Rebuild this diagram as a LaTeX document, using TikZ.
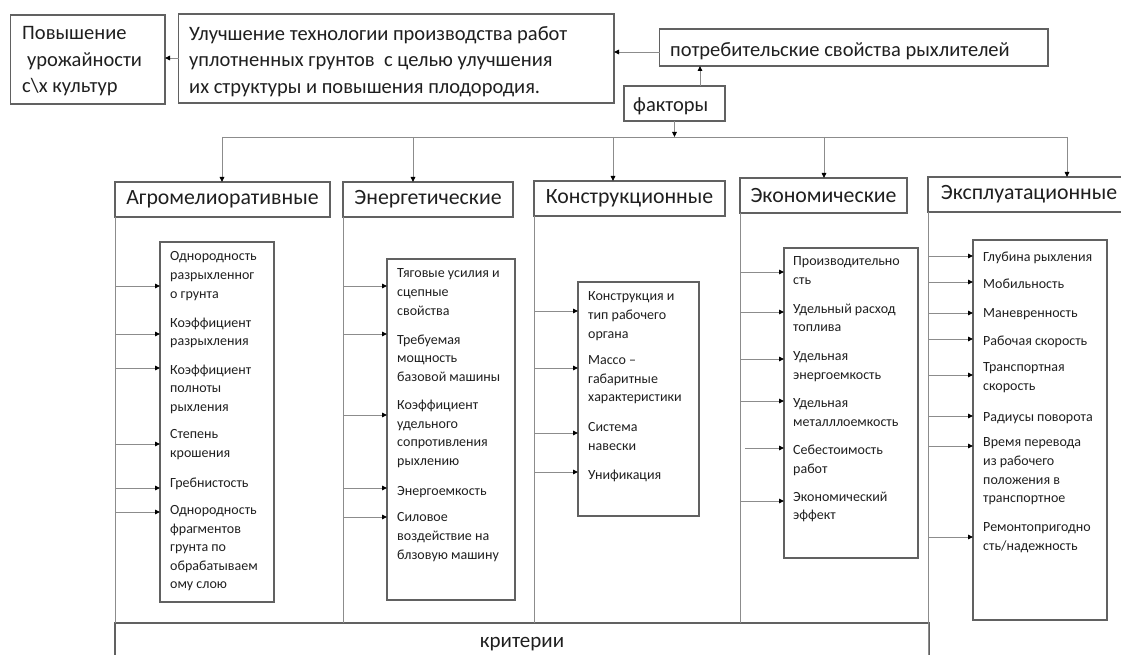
\documentclass[tikz,border=0pt]{standalone}
\usepackage{fontspec}
\setmainfont{Carlito}
\usetikzlibrary{arrows.meta}
\definecolor{boxgray}{gray}{0.38}
\definecolor{linegray}{gray}{0.55}
\definecolor{txt}{gray}{0.12}
\begin{document}
\begin{tikzpicture}[x=1pt,y=-1pt,
  box/.style={draw=boxgray,line width=1.3pt,inner sep=0pt,outer sep=0pt},
  line/.style={draw=linegray,line width=0.9pt},
  arr/.style={line,-{Triangle[length=5pt,width=4.5pt,fill=black,color=black]}},
  toptxt/.style={inner sep=0pt,anchor=west,align=left,text=txt,yshift=-2pt,font=\fontsize{20.5}{26.5}\selectfont,execute at begin node=\strut,execute at end node=\strut},
  headtxt/.style={box,text=txt,font=\fontsize{21.8}{25}\selectfont},
  item/.style={inner sep=0pt,anchor=west,align=left,text=txt,yshift=-2pt,font=\fontsize{14}{18.6}\selectfont,execute at begin node=\strut,execute at end node=\strut}]
\useasboundingbox (0,0) rectangle (1121,655);
\clip (0,0) rectangle (1121,655);
% top boxes
\node[box,minimum width=154.3pt,minimum height=89pt] (pov) at (87.85,59.5) {};
\node[toptxt] (povt) at (22,61.5) {Повышение\\\hspace{5pt}урожайности\\с\textbackslash х культур};
\node[box,minimum width=435.4pt,minimum height=89pt] (ulu) at (396.3,58.5) {};
\node[toptxt] (ulut) at (189,61.5) {Улучшение технологии производства работ\\уплотненных грунтов\ \ с целью улучшения\\их структуры и повышения плодородия.};
\node[box,minimum width=388.5pt,minimum height=37pt] (potr) at (853.75,47.5) {};
\node[toptxt] (potrt) at (670,49) {потребительские свойства рыхлителей};
\node[box,minimum width=101pt,minimum height=35pt] (fakt) at (674.5,103.5) {};
\node[toptxt] (faktt) at (633,104) {факторы};
\coordinate (up) at (178.6,58);
\draw[arr] (up) -- (up -| pov.east);
\coordinate (pu) at (659.5,52);
\draw[arr] (pu) -- (pu -| ulu.east);
\coordinate (fk) at (700,86);
\draw[arr] (fk) -- (fk |- potr.south);
\coordinate (bus) at (674.5,137);
\draw[arr] (fakt.south) -- (bus);
% headers
\node[headtxt,minimum width=215pt,minimum height=35pt] (hAg) at (222.5,199.5) {Агромелиоративные};
\node[headtxt,minimum width=170pt,minimum height=35pt] (hEn) at (428,199.5) {Энергетические};
\node[headtxt,minimum width=191pt,minimum height=35pt] (hKo) at (629.5,198.5) {Конструкционные};
\node[headtxt,minimum width=167pt,minimum height=35pt] (hEc) at (823.5,195.5) {Экономические};
\node[box,minimum width=202pt,minimum height=35pt] (hEx) at (1029,194.5) {};
\node[inner sep=0pt,text=txt,font=\fontsize{21.8}{25}\selectfont] (hExt) at (1029,194.5) {Эксплуатационные};
\coordinate (d1) at (222,137);
\coordinate (d2) at (413,137);
\coordinate (d3) at (613,137);
\coordinate (d4) at (824,137);
\coordinate (d5) at (1067,137);
\draw[line] (d1) -- (d5);
\draw[arr] (d1) -- (d1 |- hAg.north);
\draw[arr] (d2) -- (d2 |- hEn.north);
\draw[arr] (d3) -- (d3 |- hKo.north);
\draw[arr] (d4) -- (d4 |- hEc.north);
\draw[arr] (d5) -- (d5 |- hEx.north);
% criteria
\node[box,minimum width=814pt,minimum height=40pt] (krit) at (522,643) {};
\node[inner sep=0pt,text=txt,font=\fontsize{21}{25}\selectfont] (kritt) at (522,644) {критерии};
% column lines
\draw[line] (hAg.south west) -- (hAg.south west |- krit.north);
\draw[line] (hEn.south west) -- (hEn.south west |- krit.north);
\draw[line] (hKo.south west) -- (hKo.south west |- krit.north);
\draw[line] (hEc.south west) -- (hEc.south west |- krit.north);
\draw[line] (hEx.south west) -- ++(0,460);
% item boxes
\node[box,minimum width=114pt,minimum height=360pt] (bAg) at (217,422) {};
\node[box,minimum width=128pt,minimum height=341pt] (bEn) at (451,429.5) {};
\node[box,minimum width=121pt,minimum height=234pt] (bKo) at (638.5,399) {};
\node[box,minimum width=134pt,minimum height=310pt] (bEc) at (851,403) {};
\node[box,minimum width=134pt,minimum height=380pt] (bEx) at (1040,430) {};
% Agro items
\node[item] (ag1) at (170,275.7) {Однородность\\разрыхленног\\о грунта};
\node[item] (ag2) at (170,332.5) {Коэффициент\\разрыхления};
\node[item] (ag3) at (170,388.7) {Коэффициент\\полноты\\рыхления};
\node[item] (ag4) at (170,444.5) {Степень\\крошения};
\node[item] (ag5) at (170,482) {Гребнистость};
\node[item] (ag6) at (170,548) {Однородность\\фрагментов\\грунта по\\обрабатываем\\ому слою};
\foreach \y [count=\i] in {286,334,368,444,488,512} {
  \coordinate (agA\i) at (115,\y);
  \draw[arr] (agA\i) -- (agA\i -| bAg.west);
}
% Energy items
\node[item] (en1) at (397,292.7) {Тяговые усилия и\\сцепные\\свойства};
\node[item] (en2) at (397,358.7) {Требуемая\\мощность\\базовой машины};
\node[item] (en3) at (397,433.5) {Коэффициент\\удельного\\сопротивления\\рыхлению};
\node[item] (en4) at (397,490) {Энергоемкость};
\node[item] (en5) at (397,536.7) {Силовое\\воздействие на\\блзовую машину};
\foreach \y [count=\i] in {286,334,415,488,517} {
  \coordinate (enA\i) at (343,\y);
  \draw[arr] (enA\i) -- (enA\i -| bEn.west);
}
% Construction items
\node[item] (ko1) at (588,315.7) {Конструкция и\\тип рабочего\\органа};
\node[item] (ko2) at (588,379.3) {Массо –\\габаритные\\характеристики};
\node[item] (ko3) at (588,437) {Система\\навески};
\node[item] (ko4) at (588,474) {Унификация};
\foreach \y [count=\i] in {311,368,433,472} {
  \coordinate (koA\i) at (534,\y);
  \draw[arr] (koA\i) -- (koA\i -| bKo.west);
}
% Economic items
\node[item] (ec1) at (793,271) {Производительно\\сть};
\node[item] (ec2) at (793,318.5) {Удельный расход\\топлива};
\node[item] (ec3) at (793,366) {Удельная\\энергоемкость};
\node[item] (ec4) at (793,413) {Удельная\\металллоемкость};
\node[item] (ec5) at (793,460) {Себестоимость\\работ};
\node[item] (ec6) at (793,506.5) {Экономический\\эффект};
\foreach \x/\y [count=\i] in {740/272,740/312,740/359,740/401,745/448,740/501} {
  \coordinate (ecA\i) at (\x,\y);
  \draw[arr] (ecA\i) -- (ecA\i -| bEc.west);
}
% Exploitation items
\node[item] (ex1) at (983,256) {Глубина рыхления};
\node[item] (ex2) at (983,283) {Мобильность};
\node[item] (ex3) at (983,312) {Маневренность};
\node[item] (ex4) at (983,340) {Рабочая скорость};
\node[item] (ex5) at (983,377.5) {Транспортная\\скорость};
\node[item] (ex6) at (983,416) {Радиусы поворота};
\node[item] (ex7) at (983,471) {Время перевода\\из рабочего\\положения в\\транспортное};
\node[item] (ex8) at (983,537.5) {Ремонтопригодно\\сть/надежность};
\foreach \y [count=\i] in {256,282,313,339,375,416,446,537} {
  \coordinate (exA\i) at (928,\y);
  \draw[arr] (exA\i) -- (exA\i -| bEx.west);
}
\end{tikzpicture}
\end{document}
